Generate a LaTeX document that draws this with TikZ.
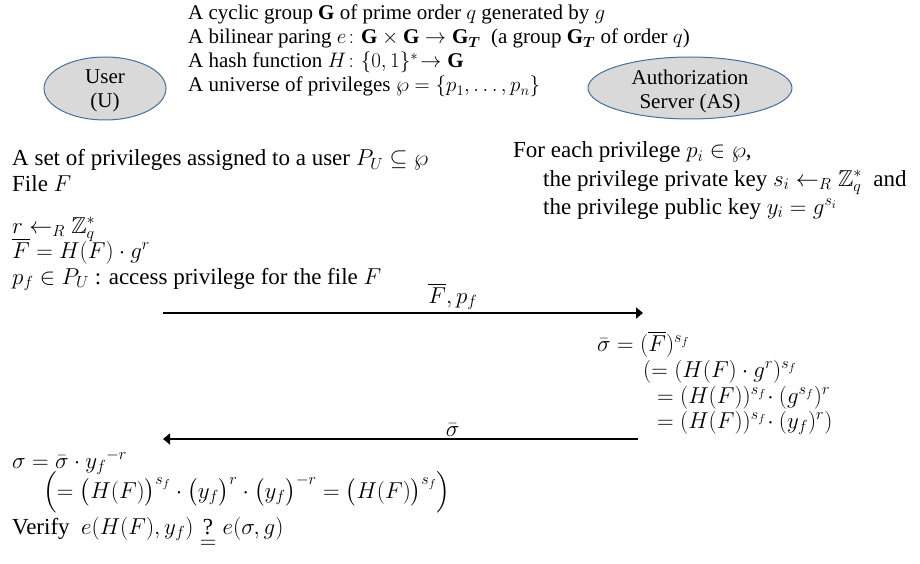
\RequirePackage{fix-cm}
\documentclass[tikz,border=0pt]{standalone}
\usepackage{amsmath,amssymb}
\usepackage{fontspec}
\setmainfont{Liberation Serif}
\usetikzlibrary{arrows.meta,shapes.geometric}
\definecolor{ellfill}{HTML}{D9D9D9}
\definecolor{ellline}{HTML}{41719C}
\tikzset{
  txt/.style={anchor=base west, inner sep=0pt, font=\fontsize{23}{27}\selectfont},
  toptxt/.style={anchor=base west, inner sep=0pt, font=\fontsize{21}{25}\selectfont},
  party/.style={ellipse, draw=ellline, fill=ellfill, line width=1pt, inner sep=0pt},
  partytxt/.style={align=center, inner sep=0pt, font=\fontsize{21}{24}\selectfont},
  msg/.style={line width=2pt, -{Triangle[length=7pt,width=11pt]}},
  lbl/.style={inner sep=2pt, font=\fontsize{23}{27}\selectfont}
}
\begin{document}
\begin{tikzpicture}[x=1pt,y=-1pt]
\useasboundingbox (0,0) rectangle (920,564);
% parties
\node[party, minimum width=122pt, minimum height=63pt] (user) at (105,88.5) {};
\node[partytxt] (userl) at ([yshift=-2.5pt]user.center) {User\\(U)};
\node[party, minimum width=204pt, minimum height=62pt] (as) at (690,88) {};
\node[partytxt] (asl) at ([yshift=-3pt]as.center) {Authorization\\Server (AS)};
% public parameters
\node[toptxt] (p1) at (188,20) {A cyclic group $\mathbf{G}$ of prime order $q$ generated by $g$};
\node[toptxt] (p2) at (188,44) {A bilinear paring $e\colon \mathbf{G}\times\mathbf{G}\to\mathbf{G}_{\boldsymbol{T}}$\ \ (a group $\mathbf{G}_{\boldsymbol{T}}$ of order $q$)};
\node[toptxt] (p3) at (188,68) {A hash function $H\colon\{0,1\}^{*}\!\to\mathbf{G}$};
\node[toptxt] (p4) at (188,92) {A universe of privileges $\wp=\{p_1,\dots,p_n\}$};
% user side
\node[txt] (u1) at (12,166) {A set of privileges assigned to a user $P_U\subseteq\wp$};
\node[txt] (u2) at (12,191) {File $F$};
\node[txt] (u3) at (12,233) {$r\leftarrow_R\mathbb{Z}_q^{*}$};
\node[txt] (u4) at (12,258) {$\overline{F}=H(F)\cdot g^{r}$};
\node[txt] (u5) at (12,284) {$p_f\in P_U$ : access privilege for the file $F$};
% AS side
\node[txt] (s1) at (513,158) {For each privilege $p_i\in\wp$,};
\node[txt] (s2) at (543,186) {the privilege private key $s_i\leftarrow_R\mathbb{Z}_q^{*}$\ \ and};
\node[txt] (s3) at (543,214) {the privilege public key $y_i=g^{s_i}$};
% messages
\coordinate (m1s) at (163,313);
\coordinate (m1e) at (643,313);
\draw[msg] (m1s) -- node[lbl, pos=0.604, above] (m1l) {$\overline{F},p_f$} (m1e);
\node[txt] (c1) at (597,351) {$\bar\sigma=(\overline{F})^{s_f}$};
\node[txt] (c2) at (643,377) {$(=(H(F)\cdot g^{r})^{s_f}$};
\node[txt] (c3) at (657,403) {$=(H(F))^{s_f}\!\cdot(g^{s_f})^{r}$};
\node[txt] (c4) at (657,428) {$=(H(F))^{s_f}\!\cdot(y_f)^{r})$};
\coordinate (m2s) at (638,439);
\coordinate (m2e) at (163,439);
\draw[msg] (m2s) -- node[lbl, pos=0.39, above] (m2l) {$\bar\sigma$} (m2e);
% user verification
\node[txt] (v1) at (12,468) {$\sigma=\bar\sigma\cdot{y_f}^{-r}$};
\node[txt] (v2) at (43,498) {$\Bigl(=\bigl(H(F)\bigr)^{s_f}\cdot\bigl(y_f\bigr)^{r}\cdot\bigl(y_f\bigr)^{-r}=\bigl(H(F)\bigr)^{s_f}\Bigr)$};
\node[txt] (v3) at (12,534) {Verify\ \ $e(H(F),y_f)\mathrel{\underset{\textstyle=}{\text{?}}}e(\sigma,g)$};
\end{tikzpicture}
\end{document}
